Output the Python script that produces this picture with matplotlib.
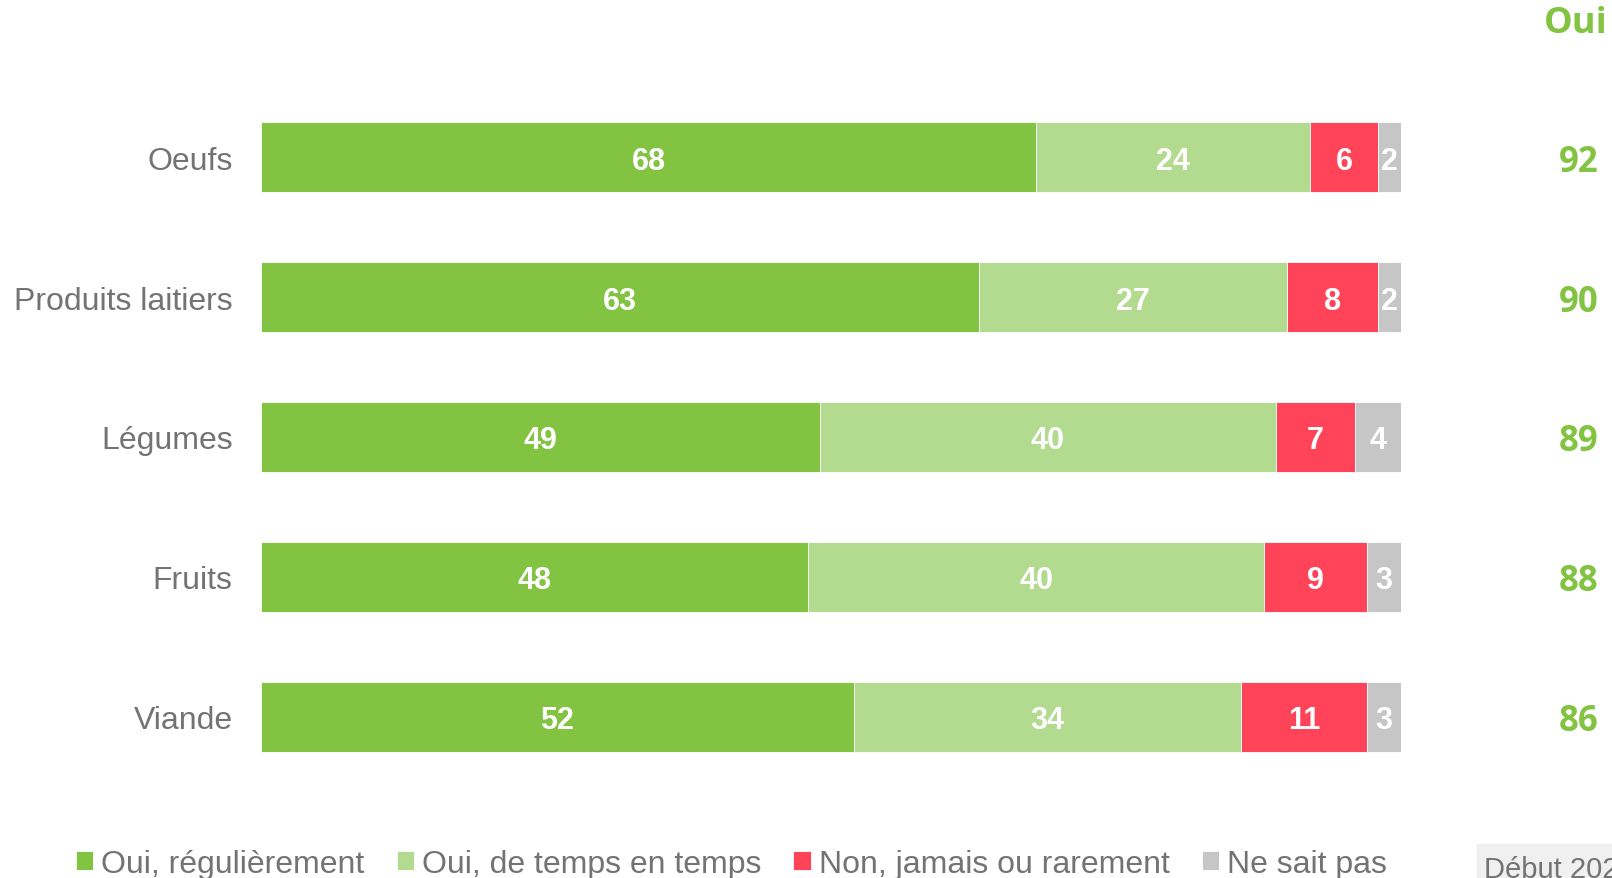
import numpy as np
import matplotlib.pyplot as plt
from matplotlib.patches import Rectangle

categories = ['Oeufs', 'Produits laitiers', 'Légumes', 'Fruits', 'Viande']
oui_regulier = [68, 63, 49, 48, 52]
oui_temps = [24, 27, 40, 40, 34]
non_jamais = [6, 8, 7, 9, 11]
ne_sait_pas = [2, 2, 4, 3, 3]
total_oui = [92, 90, 89, 88, 86]
series_names = ['Oui, régulièrement', 'Oui, de temps en temps',
                'Non, jamais ou rarement', 'Ne sait pas']
colors = ['#82C341', '#B3DB8F', '#FF4459', '#C6C6C6']

plt.rcParams['font.family'] = ['Liberation Sans', 'DejaVu Sans']

W, H = 1612, 879
fig = plt.figure(figsize=(W / 100, H / 100), dpi=100)
ax = fig.add_axes([261 / W, 1 - 788 / H, 1140 / W, 700 / H])

y = np.arange(len(categories))
series = [oui_regulier, oui_temps, non_jamais, ne_sait_pas]
left = np.zeros(len(categories))
for vals, col, name in zip(series, colors, series_names):
    vals = np.array(vals)
    ax.barh(y, vals, left=left, height=0.5, color=col, edgecolor='white',
            linewidth=0.6, label=name)
    for yi, l, v in zip(y, left, vals):
        ax.text(l + v / 2, yi, str(v), ha='center', va='center_baseline',
                color='white', fontsize=22, fontweight='bold')
    left += vals

ax.set_xlim(0, 100)
ax.set_ylim(len(categories) - 0.5, -0.5)
ax.set_yticks(y)
ax.set_yticklabels(categories, fontsize=23, color='#737373')
ax.tick_params(axis='y', length=0, pad=20.5)
ax.set_xticks([])
for s in ax.spines.values():
    s.set_visible(False)

# colonne "Oui" a droite
for yi, t in zip(y, total_oui):
    ax.text(115.6, yi, str(t), ha='center', va='center_baseline',
            color='#82C341', fontsize=25, fontweight='bold',
            family=['Open Sans', 'DejaVu Sans'])
fig.text(1576 / W, 1 - 24 / H, 'Oui', ha='center', va='center',
         color='#82C341', fontsize=26, fontweight='bold',
         family=['Open Sans', 'DejaVu Sans'])

# legende
leg = fig.legend(loc='center left', bbox_to_anchor=(47 / W, 1 - 865 / H),
                 ncol=4, frameon=False, fontsize=23, handlelength=0.55,
                 handleheight=0.55, handletextpad=0.25, columnspacing=1.0,
                 labelcolor='#737373')

# encadre date en bas a droite
fig.patches.append(Rectangle((1477 / W, 0), 1 - 1477 / W, 1 - 845 / H,
                             transform=fig.transFigure, color='#F0F0F0',
                             zorder=0))
fig.text(1484 / W, 1 - 870 / H, 'Début 2021', ha='left', va='center',
         color='#737373', fontsize=21)

fig.savefig('out.png', dpi=100)
